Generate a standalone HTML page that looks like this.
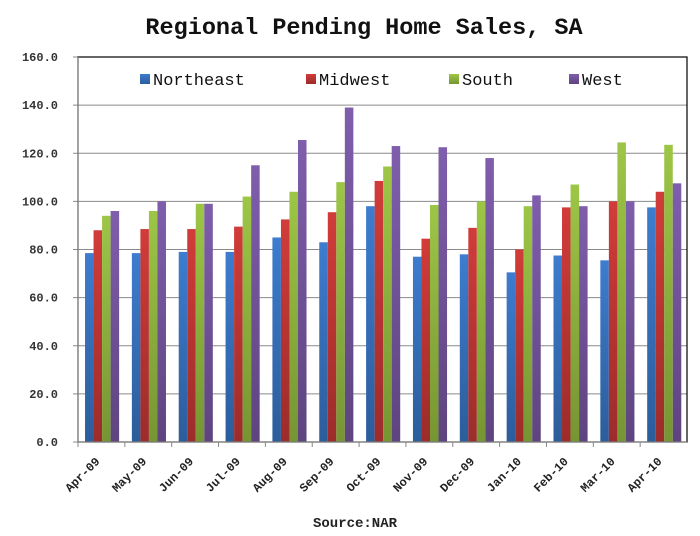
<!DOCTYPE html>
<html><head><meta charset="utf-8"><style>
html,body{margin:0;padding:0;background:#fff;}
svg{display:block;font-family:"Liberation Mono",monospace;}
</style></head><body>
<svg id="chart" width="700" height="536">
<defs>
<linearGradient id="gb" x1="0" y1="0" x2="0" y2="1"><stop offset="0" stop-color="#3d7ccf"/><stop offset="1" stop-color="#2c5d9b"/></linearGradient>
<linearGradient id="gr" x1="0" y1="0" x2="0" y2="1"><stop offset="0" stop-color="#d13c3a"/><stop offset="1" stop-color="#9c2c2a"/></linearGradient>
<linearGradient id="gg" x1="0" y1="0" x2="0" y2="1"><stop offset="0" stop-color="#9dc646"/><stop offset="1" stop-color="#769533"/></linearGradient>
<linearGradient id="gp" x1="0" y1="0" x2="0" y2="1"><stop offset="0" stop-color="#7f5eac"/><stop offset="1" stop-color="#5e447f"/></linearGradient>
</defs>
<text x="364" y="34" text-anchor="middle" font-size="23.5" font-weight="bold" fill="#111">Regional Pending Home Sales, SA</text>
<text x="355" y="527" text-anchor="middle" font-size="14" font-weight="bold" fill="#222">Source:NAR</text>
<g id="grid"></g><g id="bars"></g><g id="axes"></g>
<g id="legend"></g>
</svg>
<script>
const categories=["Apr-09","May-09","Jun-09","Jul-09","Aug-09","Sep-09","Oct-09","Nov-09","Dec-09","Jan-10","Feb-10","Mar-10","Apr-10"];
const northeast=[78.5,78.5,79,79,85,83,98,77,78,70.5,77.5,75.5,97.5];
const midwest=[88,88.5,88.5,89.5,92.5,95.5,108.5,84.5,89,80,97.5,100,104];
const south=[94,96,99,102,104,108,114.5,98.5,100,98,107,124.5,123.5];
const west=[96,100,99,115,125.5,139,123,122.5,118,102.5,98,100,107.5];
const yTicks=[0,20,40,60,80,100,120,140,160];
const seriesNames=["Northeast","Midwest","South","West"];
const NS="http://www.w3.org/2000/svg";
const L=78,R=687,T=57,B=442,yMax=160;
const y=v=>B-(v/yMax)*(B-T);
const cw=(R-L)/categories.length;
const x=i=>L+i*cw;
function mk(tag,attrs,parent){const e=document.createElementNS(NS,tag);for(const k in attrs)e.setAttribute(k,attrs[k]);parent.appendChild(e);return e;}
const grid=document.getElementById('grid'),bars=document.getElementById('bars'),axes=document.getElementById('axes'),legend=document.getElementById('legend');
yTicks.forEach(t=>{
  if(t>0&&t<yMax){const g=mk('line',{x1:L,x2:R,y1:y(t),y2:y(t),stroke:'#8a8a8a','stroke-width':1},grid);
  
  }
  const tl=mk('line',{x1:L-5,x2:L,y1:y(t),y2:y(t),stroke:'#888'},axes);
  
  
  const lb=mk('text',{x:58,y:y(t)+4,'text-anchor':'end','font-size':12,'font-weight':'bold',fill:'#333'},axes);
  lb.textContent=t.toFixed(1);
  
  
});
const series=[northeast,midwest,south,west];
const fills=['url(#gb)','url(#gr)','url(#gg)','url(#gp)'];
const bw=cw*0.182,off=cw*0.15;
series.forEach((s,si)=>{s.forEach((v,i)=>{
  const r=mk('rect',{x:x(i)+off+si*bw,y:y(v),width:bw,height:B-y(v),fill:fills[si]},bars);
  
  
});});
mk('rect',{x:L,y:T,width:R-L,height:B-T,fill:'none',stroke:'#000','stroke-width':1.2},axes);
const al=mk('line',{x1:L,x2:L,y1:T,y2:B,stroke:'#888','stroke-width':1.2},axes);


const bl=mk('line',{x1:L,x2:R,y1:B,y2:B,stroke:'#888','stroke-width':1.2},axes);


categories.forEach((c,i)=>{
  const tk=mk('line',{x1:x(i),x2:x(i),y1:B,y2:B+5,stroke:'#888'},axes);
  
  
  const cx=x(i)+cw/2-1,cy=B+20;
  const t=mk('text',{x:cx,y:cy,'text-anchor':'end','font-size':12,'font-weight':'bold',fill:'#222',transform:`rotate(-45 ${cx} ${cy})`},axes);
  t.textContent=c;
  
  
});
const lx=[140,306,449,569];
seriesNames.forEach((n,i)=>{
  const g=mk('g',{},legend);
  
  
  mk('rect',{x:lx[i],y:74,width:10,height:10,fill:fills[i]},g);
  const t=mk('text',{x:lx[i]+13,y:85,'font-size':17,fill:'#111'},g);
  t.textContent=n;
});
</script>
</body></html>
